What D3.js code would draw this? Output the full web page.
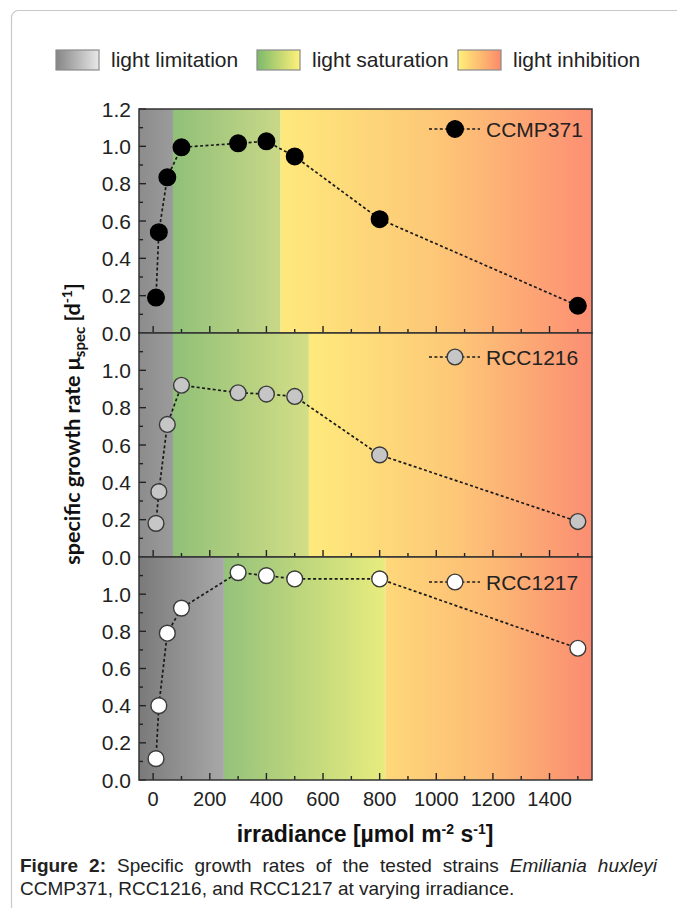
<!DOCTYPE html>
<html>
<head>
<meta charset="utf-8">
<script src="https://cdn.jsdelivr.net/npm/d3@7"></script>
<style>
  html, body { margin: 0; padding: 0; background: #fff; }
  svg { display: block; }
</style>
</head>
<body>
<script>
// ---------------- DATA ----------------
const irradiance = [10, 20, 50, 100, 300, 400, 500, 800, 1500];
const strains = ["CCMP371", "RCC1216", "RCC1217"];
const ccmp371 = [0.19, 0.54, 0.834, 0.995, 1.016, 1.027, 0.946, 0.61, 0.146];
const rcc1216 = [0.18, 0.35, 0.71, 0.92, 0.88, 0.873, 0.86, 0.547, 0.19];
const rcc1217 = [0.115, 0.40, 0.79, 0.925, 1.116, 1.10, 1.082, 1.082, 0.709];
const limitationEnd = [70, 70, 250];
const saturationEnd = [450, 550, 820];
const xTicksMajor = [0, 200, 400, 600, 800, 1000, 1200, 1400];
const yTickLabels = [["0.0","0.2","0.4","0.6","0.8","1.0","1.2"], ["0.0","0.2","0.4","0.6","0.8","1.0"], ["0.0","0.2","0.4","0.6","0.8","1.0"]];
const legendLabels = ["light limitation", "light saturation", "light inhibition"];

// ---------------- STYLE / LAYOUT ----------------
const W = 677, H = 908;
const plotL = 139, plotR = 592;
const panelTops = [109, 333, 557];
const panelBottoms = [333, 557, 780];
const seriesValues = [ccmp371, rcc1216, rcc1217];
const markerFill = ["#000000", "#c6c6c6", "#ffffff"];
const markerStroke = ["#000000", "#3a3a3a", "#3a3a3a"];
const legendOffset = [20, 24, 25];

const bgGrad = [
  { gray: ["#8c8c8c", "#9b9b9b"], green: ["#90c078", "#c9d888"], inh: ["#fee97c", "#fdc777", "#fd8f73"] },
  { gray: ["#8c8c8c", "#9b9b9b"], green: ["#90c078", "#d3de86"], inh: ["#feea7c", "#fdc978", "#fb8e72"] },
  { gray: ["#7a7a7a", "#a8a8a8"], green: ["#95c27b", "#e8ec7e"], inh: ["#fed87a", "#fdbb75", "#fa8b70"] }
];

const svg = d3.select("body").append("svg").attr("width", W).attr("height", H);
svg.append("rect").attr("width", W).attr("height", H).attr("fill", "#fff");
const defs = svg.append("defs");

function linGrad(id, stops) {
  const g = defs.append("linearGradient").attr("id", id).attr("x1", "0%").attr("x2", "100%").attr("y1", "0%").attr("y2", "0%");
  stops.forEach((c, i) => g.append("stop").attr("offset", (i / (stops.length - 1) * 100) + "%").attr("stop-color", c));
  return "url(#" + id + ")";
}

// page frame
svg.append("rect").attr("x", 11.5).attr("y", 10.5).attr("width", 720).attr("height", 960)
  .attr("rx", 7).attr("fill", "none").attr("stroke", "#c8c8c8").attr("stroke-width", 1.2);

// ---------------- TOP LEGEND ----------------
const legBoxes = [
  { x: 56, grad: linGrad("lg0", ["#858585", "#e8e8e8"]) },
  { x: 257, grad: linGrad("lg1", ["#7cb96a", "#fff27a"]) },
  { x: 458, grad: linGrad("lg2", ["#fff07a", "#fb8a6a"]) }
];
legBoxes.forEach((b, i) => {
  svg.append("rect").attr("x", b.x).attr("y", 50).attr("width", 43).attr("height", 20)
    .attr("fill", b.grad).attr("stroke", "#8a8a8a").attr("stroke-width", 1.2);
  svg.append("text").attr("x", b.x + 55).attr("y", 67)
    .attr("font-family", "Liberation Sans, Arial, sans-serif").attr("font-size", 21)
    .attr("fill", "#222").text(legendLabels[i]);
});

// ---------------- PANELS ----------------
const x = d3.scaleLinear().domain([-50, 1550]).range([plotL, plotR]);
const fontTick = "Liberation Sans, Arial, sans-serif";

panelTops.forEach((top, p) => {
  const bottom = panelBottoms[p];
  const y = d3.scaleLinear().domain([0, 1.2]).range([bottom, top]);
  const g = svg.append("g");
  const clipId = "clip" + p;
  defs.append("clipPath").attr("id", clipId).append("rect")
    .attr("x", plotL).attr("y", top).attr("width", plotR - plotL).attr("height", bottom - top);
  const bg = g.append("g").attr("clip-path", "url(#" + clipId + ")");
  const gr = bgGrad[p];
  const regions = [
    [x.domain()[0], limitationEnd[p], linGrad("g" + p + "a", gr.gray)],
    [limitationEnd[p], saturationEnd[p], linGrad("g" + p + "b", gr.green)],
    [saturationEnd[p], x.domain()[1], linGrad("g" + p + "c", gr.inh)]
  ];
  regions.forEach(r => {
    bg.append("rect").attr("x", x(r[0])).attr("y", top).attr("width", x(r[1]) - x(r[0])).attr("height", bottom - top)
      .attr("fill", r[2]);
  });

  // x ticks (inward, at bottom)
  const xMinor = d3.range(100, 1600, 200);
  xTicksMajor.forEach(v => g.append("line").attr("x1", x(v)).attr("x2", x(v)).attr("y1", bottom).attr("y2", bottom - 7)
    .attr("stroke", "#222").attr("stroke-width", 1.4));
  xMinor.forEach(v => g.append("line").attr("x1", x(v)).attr("x2", x(v)).attr("y1", bottom).attr("y2", bottom - 4)
    .attr("stroke", "#222").attr("stroke-width", 1.4));

  // y ticks (inward, at left)
  const maxY = p === 0 ? 1.2 : 1.1;
  d3.range(0, maxY + 0.001, 0.1).forEach((v, i) => {
    const major = i % 2 === 0;
    g.append("line").attr("x1", plotL).attr("x2", plotL + (major ? 7 : 4)).attr("y1", y(v)).attr("y2", y(v))
      .attr("stroke", "#222").attr("stroke-width", 1.4);
  });
  yTickLabels[p].forEach(lbl => {
    g.append("text").attr("x", 131).attr("y", y(+lbl) + 7.5).attr("text-anchor", "end")
      .attr("font-family", fontTick).attr("font-size", 21).attr("fill", "#222").text(lbl);
  });

  // frame
  g.append("rect").attr("x", plotL).attr("y", top).attr("width", plotR - plotL).attr("height", bottom - top)
    .attr("fill", "none").attr("stroke", "#333").attr("stroke-width", 1.5);

  // series
  const vals = seriesValues[p];
  const pts = irradiance.map((xv, i) => [xv, vals[i]]);
  g.append("path").attr("d", d3.line().x(d => x(d[0])).y(d => y(d[1]))(pts))
    .attr("fill", "none").attr("stroke", "#1a1a1a").attr("stroke-width", 1.7).attr("stroke-dasharray", "3,2.4");
  g.selectAll("circle.pt").data(pts).enter().append("circle")
    .attr("cx", d => x(d[0])).attr("cy", d => y(d[1])).attr("r", p === 0 ? 8.3 : 7.9)
    .attr("fill", markerFill[p]).attr("stroke", markerStroke[p]).attr("stroke-width", 1.4);

  // panel legend
  const ly = top + legendOffset[p];
  g.append("line").attr("x1", 429).attr("x2", 480).attr("y1", ly).attr("y2", ly)
    .attr("stroke", "#1a1a1a").attr("stroke-width", 1.7).attr("stroke-dasharray", "3,2.4");
  g.append("circle").attr("cx", 455).attr("cy", ly).attr("r", p === 0 ? 8.3 : 7.9)
    .attr("fill", markerFill[p]).attr("stroke", markerStroke[p]).attr("stroke-width", 1.4);
  g.append("text").attr("x", 486).attr("y", ly + 7.5).attr("font-family", fontTick).attr("font-size", 21)
    .attr("fill", "#222").text(strains[p]);

  // x tick labels on bottom panel
  if (p === 2) {
    xTicksMajor.forEach(v => g.append("text").attr("x", x(v)).attr("y", 806).attr("text-anchor", "middle")
      .attr("font-family", fontTick).attr("font-size", 20).attr("fill", "#222").text(v));
  }
});

// ---------------- AXIS TITLES ----------------
const xt = svg.append("text").attr("x", 365).attr("y", 842).attr("text-anchor", "middle")
  .attr("font-family", "Liberation Sans, Arial, sans-serif").attr("font-weight", "bold").attr("font-size", 23).attr("fill", "#111");
xt.append("tspan").text("irradiance [µmol m");
xt.append("tspan").attr("dy", -8).attr("font-size", 14).text("-2");
xt.append("tspan").attr("dy", 8).text(" s");
xt.append("tspan").attr("dy", -8).attr("font-size", 14).text("-1");
xt.append("tspan").attr("dy", 8).text("]");

const yt = svg.append("text").attr("transform", "translate(80,424) rotate(-90)").attr("text-anchor", "middle")
  .attr("font-family", "Lato, 'Open Sans', sans-serif").attr("font-weight", "bold").attr("font-size", 21.5).attr("fill", "#111");
yt.append("tspan").text("specific growth rate μ");
yt.append("tspan").attr("dy", 5).attr("font-size", 15).text("spec");
yt.append("tspan").attr("dy", -5).text(" [d");
yt.append("tspan").attr("dy", -8).attr("font-size", 14).text("-1");
yt.append("tspan").attr("dy", 8).text("]");

// ---------------- CAPTION ----------------
const capFont = "Liberation Sans, Arial, sans-serif";
const capParts = [["Figure 2:", "bold", "normal"], [" Specific growth rates of the tested strains ", "normal", "normal"], ["Emiliania huxleyi", "normal", "italic"]];
const c1 = svg.append("text").attr("x", 20).attr("y", 872).attr("font-family", capFont).attr("font-size", 19).attr("fill", "#222");
capParts.forEach(cp => c1.append("tspan").attr("font-weight", cp[1]).attr("font-style", cp[2]).text(cp[0]));
const targetW = 657 - 20;
const w1 = c1.node().getComputedTextLength();
const nSpaces = capParts.map(cp => cp[0]).join("").split(" ").length - 1;
c1.attr("word-spacing", Math.max(0, (targetW - w1) / nSpaces));
svg.append("text").attr("x", 20).attr("y", 895).attr("font-family", capFont).attr("font-size", 19).attr("fill", "#222")
  .text("CCMP371, RCC1216, and RCC1217 at varying irradiance.");
</script>
</body>
</html>
